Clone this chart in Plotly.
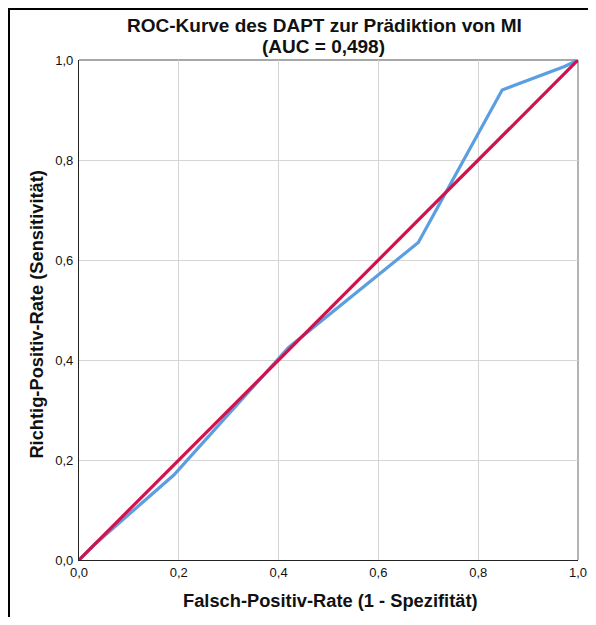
import plotly.graph_objects as go

fpr = [0.0, 0.03, 0.19, 0.42, 0.68, 0.848, 0.973, 1.0]
tpr = [0.0, 0.03, 0.17, 0.425, 0.635, 0.94, 0.987, 1.0]
ref_x = [0.0, 1.0]
ref_y = [0.0, 1.0]
ticks = [0.0, 0.2, 0.4, 0.6, 0.8, 1.0]
title_lines = ["ROC-Kurve des DAPT zur Prädiktion von MI", "(AUC = 0,498)"]
x_title = "Falsch-Positiv-Rate (1 - Spezifität)"
y_title = "Richtig-Positiv-Rate (Sensitivität)"

fig = go.Figure()
fig.add_trace(go.Scatter(x=fpr, y=tpr, mode="lines",
                         line=dict(color="#5b9ee1", width=3.2), cliponaxis=False,
                         showlegend=False))
fig.add_trace(go.Scatter(x=ref_x, y=ref_y, mode="lines",
                         line=dict(color="#d2124c", width=3.2), cliponaxis=False,
                         showlegend=False))

font = "Liberation Sans, Arial, sans-serif"
# page has an 8px body margin; figure sized so the page is exactly filled
L, T, PW, PH = 71, 52, 499, 500
fig.update_layout(
    width=580, height=609,
    margin=dict(l=L, r=580 - L - PW, t=T, b=609 - T - PH),
    paper_bgcolor="white", plot_bgcolor="white",
    separators=",.",
    font=dict(family=font, size=13, color="#111"),
    xaxis=dict(range=[0, 1], tickvals=ticks, tickformat=".1f", automargin=False,
               showgrid=True, gridcolor="#d4d4d4", gridwidth=1.3,
               showline=True, linecolor="#222", linewidth=1.3,
               zeroline=False, ticks="", ticklen=0),
    yaxis=dict(range=[0, 1], tickvals=ticks, tickformat=".1f", automargin=False,
               showgrid=True, gridcolor="#d4d4d4", gridwidth=1.3,
               showline=True, linecolor="#222", linewidth=1.3,
               zeroline=False, ticks="", ticklen=0, ticklabelstandoff=2),
    annotations=[
        dict(text="<b>%s</b>" % title_lines[0], xref="paper", yref="paper",
             x=0.492, y=1.069, xanchor="center", yanchor="middle",
             showarrow=False, font=dict(size=19, color="#111")),
        dict(text="<b>%s</b>" % title_lines[1], xref="paper", yref="paper",
             x=0.49, y=1.027, xanchor="center", yanchor="middle",
             showarrow=False, font=dict(size=19, color="#111")),
        dict(text="<b>%s</b>" % x_title, xref="paper", yref="paper",
             x=0.505, y=-0.081, xanchor="center", yanchor="middle",
             showarrow=False, font=dict(size=18.3, color="#111")),
        dict(text="<b>%s</b>" % y_title, xref="paper", yref="paper",
             x=-0.087, y=0.49, xanchor="center", yanchor="middle",
             textangle=-90, showarrow=False, font=dict(size=18.3, color="#111")),
    ],
    shapes=[
        dict(type="line", xref="paper", yref="paper", x0=0, x1=1, y0=1, y1=1,
             line=dict(color="#8a8a8a", width=1.3), layer="below"),
        dict(type="line", xref="paper", yref="paper", x0=1, x1=1, y0=0, y1=1,
             line=dict(color="#8a8a8a", width=1.3), layer="below"),
        dict(type="rect", xref="paper", yref="paper",
             x0=(1 - L) / PW, x1=1.2, y0=-0.3, y1=(PH + T - 1) / PH,
             line=dict(color="#000", width=2)),
    ],
)
fig.write_html("out.html", config={"displayModeBar": False})
